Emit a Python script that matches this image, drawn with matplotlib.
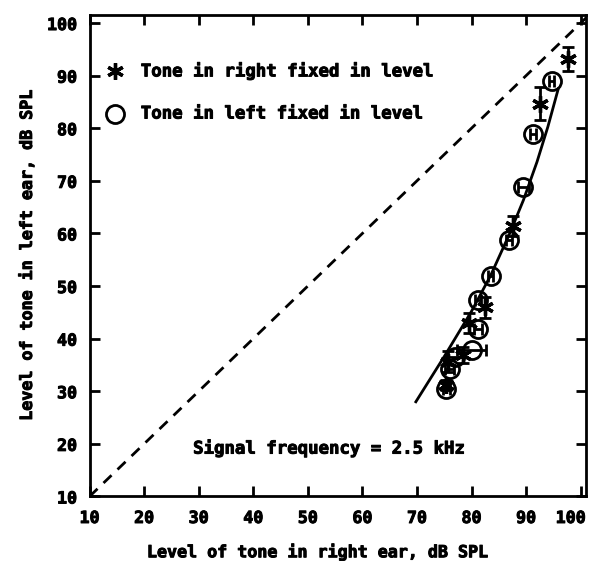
import matplotlib
matplotlib.use("Agg")
import matplotlib.pyplot as plt
import matplotlib.patheffects as pe
from matplotlib.transforms import ScaledTranslation

# tone in right ear fixed in level (vertical error bars)
right_x = [97.6, 92.6, 87.6, 82.4, 79.6, 78.4, 75.7, 75.4]
right_y = [93.1, 84.7, 61.5, 46.0, 42.9, 36.9, 35.6, 31.2]
right_err = [2.3, 3.1, 1.9, 2.0, 1.9, 1.5, 2.0, 1.0]

# tone in left ear fixed in level (horizontal error bars)
left_x = [94.7, 91.3, 89.5, 86.9, 83.5, 81.2, 81.2, 80.0, 76.9, 76.0, 75.4]
left_y = [88.9, 78.9, 68.9, 58.8, 52.0, 47.3, 41.9, 37.9, 36.5, 34.3, 30.5]
left_err = [0.5, 0.6, 1.0, 0.6, 0.5, 0.6, 0.8, 2.6, 1.5, 0.8, 0.6]

# fitted curve
fit_x = [69.8, 75.0, 80.0, 83.5, 87.0, 89.5, 92.0, 94.0, 95.9]
fit_y = [28.0, 36.6, 45.2, 52.0, 60.0, 66.3, 73.6, 80.3, 87.5]

ticks = [10, 20, 30, 40, 50, 60, 70, 80, 90, 100]

heavy = [pe.withStroke(linewidth=0.7, foreground="black")]
font = {"family": "DejaVu Sans Mono", "weight": "bold"}

fig = plt.figure(figsize=(5.94, 5.61), dpi=100)
ax = fig.add_axes([0.1507, 0.115, 0.836, 0.858])

ax.plot([10, 101.5], [10, 101.5], color="black", lw=2, ls=(0, (4, 3)))
ax.plot(fit_x, fit_y, color="black", lw=2)

ax.errorbar(left_x, left_y, xerr=left_err, fmt="o", ms=13, mfc="none",
            mec="black", mew=2, ecolor="black", elinewidth=2, capsize=4, capthick=2)
ax.errorbar(right_x, right_y, yerr=right_err, fmt="none", ecolor="black",
            elinewidth=2, capsize=4.5, capthick=2)
ax.plot(right_x, right_y, ls="none", marker=(6, 2, 0), ms=12, mec="black", mew=2.4)

# legend drawn by hand
ax.plot([14.7], [90.9], ls="none", marker=(6, 2, 0), ms=12, mec="black", mew=2.4)
ax.plot([14.7], [82.8], ls="none", marker="o", ms=13, mfc="none", mec="black", mew=2)
ax.text(19.4, 90.9, "Tone in right fixed in level", va="center", fontsize=12.5,
        path_effects=heavy, **font)
ax.text(19.4, 82.8, "Tone in left fixed in level", va="center", fontsize=12.5,
        path_effects=heavy, **font)

ax.text(54.0, 19.2, "Signal frequency = 2.5 kHz", ha="center", va="center",
        fontsize=12.5, path_effects=heavy, **font)

ax.set_xlim(10, 101)
ax.set_ylim(10, 101.5)
ax.set_xticks(ticks)
ax.set_yticks(ticks)
ax.tick_params(direction="in", length=7, width=2, top=True, right=True, pad=9)
for lab in ax.get_xticklabels() + ax.get_yticklabels():
    lab.set_fontfamily("DejaVu Sans Mono")
    lab.set_fontweight("bold")
    lab.set_fontsize(12)
    lab.set_path_effects(heavy)
# keep the last x label inside the figure
last = ax.get_xticklabels()[-1]
last.set_transform(last.get_transform() + ScaledTranslation(-0.1, 0, fig.dpi_scale_trans))
for s in ax.spines.values():
    s.set_linewidth(2)

ax.set_xlabel("Level of tone in right ear, dB SPL", fontsize=12, labelpad=11,
              x=0.458, path_effects=heavy, **font)
ax.set_ylabel("Level of tone in left ear, dB SPL", fontsize=12, labelpad=8,
              path_effects=heavy, **font)

fig.savefig("out.png", dpi=100)
